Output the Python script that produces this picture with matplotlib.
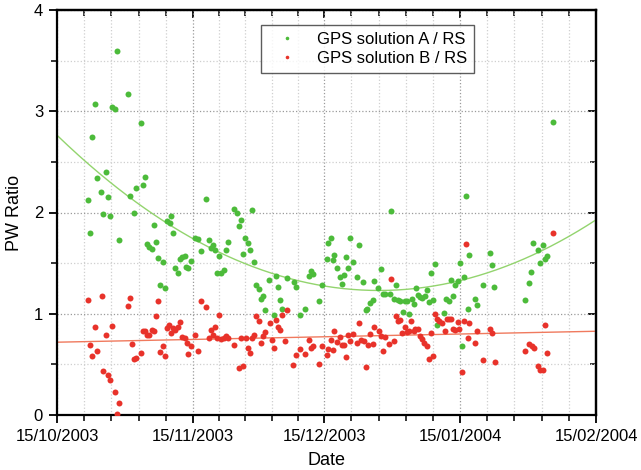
import numpy as np
import pandas as pd
import matplotlib
matplotlib.use("Agg")
import matplotlib.pyplot as plt
import matplotlib.dates as mdates
from matplotlib.ticker import FixedLocator, MultipleLocator

plt.rcParams["font.family"] = ["Liberation Sans", "DejaVu Sans"]

# days counted from 15/10/2003
start_date = "2003-10-15"
end_date = "2004-02-15"

days_a = [13.6, 16.1, 8.7, 12.6, 13.2, 19.2, 8.1, 11.1, 9.1, 20.1, 19.6, 18.1,
          10.1, 11.6, 7.1, 16.6, 10.6, 12.1, 17.6, 7.6, 14.1, 26.1, 22.1, 25.1,
          25.7, 26.5, 20.5, 21.1, 21.6, 22.6, 23.1, 24.1, 27.0, 27.6, 28.1, 28.6,
          29.1, 29.5, 30.0, 30.6, 31.6, 32.1, 32.9, 23.6, 24.6, 34.1, 40.5, 41.1,
          44.5, 42.0, 41.6, 34.6, 35.5, 35.1, 36.1, 39.0, 38.5, 37.0, 43.0, 43.5,
          44.0, 42.4, 45.0, 36.5, 37.4, 38.0, 45.4, 46.0, 47.0, 46.6, 47.5, 48.4,
          49.5, 49.9, 50.5, 51.0, 51.4, 52.5, 54.0, 54.5, 55.5, 56.5, 57.4, 57.9,
          58.5, 59.9, 60.5, 61.5, 61.9, 62.5, 63.0, 63.3, 76.3, 93.3, 66.9, 69.0,
          65.9, 67.5, 63.9, 66.4, 65.4, 64.5, 65.0, 68.4, 69.9, 72.4, 73.9, 73.3,
          74.4, 74.9, 75.9, 77.4, 72.0, 71.4, 70.8, 70.4, 77.0, 77.9, 78.3, 78.9,
          79.3, 79.9, 80.4, 80.9, 81.4, 81.9, 82.3, 82.9, 83.4, 83.9, 84.4, 84.8,
          85.3, 85.8, 86.3, 86.8, 88.3, 88.8, 89.4, 89.8, 90.4, 90.9, 91.4, 91.9,
          92.8, 92.4, 93.9, 94.1, 113.3, 108.7, 110.8, 109.8, 98.9, 111.8, 111.4,
          110.3, 99.3, 108.2, 107.8, 97.3, 99.8, 95.3, 106.8, 95.8]
ratio_a = [3.60, 3.17, 3.07, 3.04, 3.02, 2.88, 2.75, 2.40, 2.34, 2.35, 2.27, 2.24,
           2.20, 2.15, 2.12, 2.16, 1.99, 1.97, 2.00, 1.80, 1.73, 1.97, 1.88, 1.92,
           1.90, 1.80, 1.69, 1.66, 1.64, 1.71, 1.55, 1.51, 1.45, 1.40, 1.54, 1.56,
           1.57, 1.46, 1.45, 1.52, 1.75, 1.74, 1.62, 1.28, 1.25, 2.13, 2.03, 2.00,
           2.02, 1.93, 1.87, 1.73, 1.68, 1.65, 1.63, 1.71, 1.63, 1.57, 1.75, 1.70,
           1.63, 1.59, 1.51, 1.40, 1.40, 1.43, 1.28, 1.24, 1.18, 1.15, 1.04, 1.33,
           0.99, 1.37, 1.26, 1.14, 1.05, 1.35, 1.31, 1.26, 0.99, 1.05, 1.37, 1.42,
           1.39, 1.13, 1.28, 1.54, 1.70, 1.75, 1.53, 1.58, 2.01, 2.16, 1.75, 1.68,
           1.56, 1.51, 1.45, 1.45, 1.38, 1.36, 1.29, 1.36, 1.31, 1.32, 1.44, 1.25,
           1.20, 1.20, 1.20, 1.28, 1.14, 1.11, 1.05, 1.04, 1.15, 1.14, 1.13, 1.02,
           1.13, 1.13, 1.00, 1.15, 1.10, 1.25, 1.19, 1.17, 1.16, 1.18, 1.23, 1.12,
           1.40, 1.14, 1.49, 0.89, 1.01, 1.15, 1.13, 1.33, 1.18, 1.28, 1.32, 1.50,
           1.36, 0.68, 1.05, 1.58, 2.89, 1.70, 1.68, 1.63, 1.60, 1.57, 1.54,
           1.50, 1.48, 1.41, 1.30, 1.28, 1.26, 1.15, 1.14, 1.09]

days_b = [7.1, 10.2, 16.6, 16.1, 23.0, 22.6, 8.7, 12.6, 11.1, 7.6, 8.1, 9.1,
          10.5, 11.6, 12.1, 13.2, 14.1, 13.6, 17.1, 17.6, 18.1, 19.2, 19.6, 20.1,
          20.5, 21.1, 21.6, 22.1, 23.6, 24.1, 24.6, 25.1, 25.6, 26.1, 26.5, 27.0,
          27.5, 28.1, 28.6, 29.1, 29.6, 30.0, 30.6, 31.6, 32.1, 32.9, 34.0, 37.0,
          35.1, 36.0, 35.5, 34.6, 36.5, 37.5, 38.1, 38.5, 39.0, 40.5, 41.5, 42.4,
          42.0, 43.1, 43.5, 44.0, 44.6, 45.0, 45.5, 46.0, 46.6, 47.0, 47.5, 48.5,
          49.1, 49.5, 50.0, 50.5, 51.0, 51.4, 52.5, 52.0, 53.9, 54.5, 55.5, 56.5,
          57.4, 57.9, 58.5, 59.9, 60.5, 61.5, 61.9, 62.5, 63.0, 63.3, 76.3, 93.3,
          77.4, 77.9, 78.3, 80.8, 79.3, 78.8, 79.9, 80.3, 81.4, 81.8, 82.3, 82.8,
          83.3, 83.8, 84.4, 84.9, 85.9, 85.3, 86.3, 86.8, 87.2, 87.9, 88.5, 88.9,
          89.5, 89.9, 90.4, 90.9, 91.4, 91.8, 92.9, 92.4, 94.0, 93.8, 63.9, 64.5,
          65.0, 65.5, 65.9, 66.5, 66.9, 67.5, 68.5, 69.0, 69.4, 70.0, 70.4, 71.0,
          71.4, 72.0, 72.4, 73.4, 73.9, 74.4, 74.9, 75.8, 77.0, 113.3, 95.8, 98.8,
          99.3, 95.4, 111.3, 107.8, 108.3, 108.8, 106.8, 111.8, 97.3, 99.9, 109.8,
          110.3, 110.8]
ratio_b = [1.14, 1.18, 1.16, 1.08, 1.13, 0.98, 0.87, 0.88, 0.79, 0.69, 0.58, 0.63,
           0.43, 0.40, 0.35, 0.23, 0.12, 0.01, 0.70, 0.55, 0.56, 0.61, 0.83, 0.83,
           0.79, 0.79, 0.84, 0.83, 0.62, 0.68, 0.58, 0.86, 0.89, 0.81, 0.86, 0.84,
           0.87, 0.92, 0.77, 0.76, 0.71, 0.60, 0.68, 0.79, 0.63, 1.13, 1.07, 0.99,
           0.84, 0.87, 0.79, 0.76, 0.76, 0.75, 0.76, 0.78, 0.76, 0.69, 0.46, 0.48,
           0.76, 0.76, 0.66, 0.61, 0.76, 0.79, 0.98, 0.93, 0.71, 0.78, 0.82, 0.91,
           0.74, 0.66, 0.94, 0.87, 0.84, 0.99, 1.04, 0.73, 0.49, 0.59, 0.65, 0.60,
           0.74, 0.66, 0.68, 0.50, 0.68, 0.59, 0.65, 0.74, 0.64, 0.83, 1.34, 1.69,
           0.98, 0.93, 0.94, 0.93, 0.87, 0.81, 0.82, 0.83, 0.83, 0.85, 0.85, 0.78,
           0.75, 0.71, 0.68, 0.55, 0.58, 0.81, 1.00, 0.95, 0.93, 0.91, 0.83, 0.95,
           0.95, 0.95, 0.85, 0.84, 0.92, 0.85, 0.93, 0.42, 0.91, 0.76, 0.72, 0.77,
           0.69, 0.69, 0.57, 0.79, 0.73, 0.80, 0.71, 0.91, 0.74, 0.73, 0.47, 0.69,
           0.80, 0.70, 0.87, 0.83, 0.78, 0.63, 0.77, 0.70, 0.73, 1.80, 0.83, 0.85,
           0.81, 0.71, 0.89, 0.70, 0.68, 0.66, 0.63, 0.61, 0.54, 0.52, 0.48,
           0.44, 0.44]

label_a = "GPS solution A / RS"
label_b = "GPS solution B / RS"

green = "#4cbb3a"
red = "#e8322a"
green_fit = "#93d46e"
red_fit = "#f07a5e"


def to_dates(days):
    """
    in: list of day offsets
    out: matplotlib date numbers
    """
    base = pd.Timestamp(start_date)
    stamps = base + pd.to_timedelta(np.asarray(days), unit="D")
    return mdates.date2num(stamps.to_pydatetime())


fig = plt.figure(figsize=(6.41, 4.70), dpi=100)
ax = fig.add_axes([57 / 641, 1 - 415 / 470, (596 - 57) / 641, (415 - 10) / 470])

x0 = mdates.date2num(pd.Timestamp(start_date).to_pydatetime())
x1 = mdates.date2num(pd.Timestamp(end_date).to_pydatetime())

# fits over the whole axis range
span = np.linspace(0, x1 - x0, 300)
coef_a = np.polyfit(days_a, ratio_a, 2)
coef_b = np.polyfit(days_b, ratio_b, 1)
ax.plot(span + x0, np.polyval(coef_a, span), color=green_fit, lw=1.0, zorder=2)
ax.plot(span + x0, np.polyval(coef_b, span), color=red_fit, lw=1.0, zorder=2)

ax.plot(to_dates(days_a), ratio_a, "o", color=green, ms=4.3, mec="none",
        label=label_a, zorder=3)
ax.plot(to_dates(days_b), ratio_b, "o", color=red, ms=4.3, mec="none",
        label=label_b, zorder=3)

ax.set_xlim(x0, x1)
ax.set_ylim(0, 4)

major = mdates.date2num(pd.date_range(start_date, end_date, freq="MS")
                        .shift(14, freq="D").to_pydatetime())
major = np.concatenate([[x0], major[major > x0]])
minor = []
for a, b in zip(major[:-1], major[1:]):
    minor.extend(np.linspace(a, b, 6)[1:-1])

ax.xaxis.set_major_locator(FixedLocator(major))
ax.xaxis.set_minor_locator(FixedLocator(minor))
ax.xaxis.set_major_formatter(mdates.DateFormatter("%d/%m/%Y"))
ax.yaxis.set_major_locator(MultipleLocator(1))
ax.yaxis.set_minor_locator(MultipleLocator(0.5))

ax.grid(True, which="major", ls=":", color="#9a9a9a", lw=0.9)
ax.grid(True, which="minor", ls=":", color="#cfcfcf", lw=0.9)
ax.set_axisbelow(True)

ax.tick_params(which="major", direction="out", length=6, width=1.3,
               labelsize=12, pad=4)
ax.tick_params(which="minor", direction="out", length=4, width=1.1)

for side in ["top", "bottom", "left", "right"]:
    ax.spines[side].set_linewidth(1.6)

top = ax.secondary_xaxis("top")
top.xaxis.set_major_locator(FixedLocator(major))
top.xaxis.set_minor_locator(FixedLocator(minor))
top.tick_params(which="major", direction="in", length=6, width=1.3, labeltop=False)
top.tick_params(which="minor", direction="in", length=4, width=1.1)
top.spines["top"].set_linewidth(1.6)

right = ax.secondary_yaxis("right")
right.yaxis.set_major_locator(MultipleLocator(1))
right.yaxis.set_minor_locator(MultipleLocator(0.5))
right.tick_params(which="major", direction="in", length=6, width=1.3, labelright=False)
right.tick_params(which="minor", direction="in", length=4, width=1.1)
right.spines["right"].set_linewidth(1.6)

ax.set_xlabel("Date", fontsize=13, labelpad=6)
ax.set_ylabel("PW Ratio", fontsize=13, labelpad=8)

leg = ax.legend(loc="upper left", bbox_to_anchor=(0.378, 0.962), fontsize=12,
                markerscale=0.6, frameon=True, fancybox=False, handlelength=2.4,
                borderpad=0.4, labelspacing=0.25, handletextpad=0.6,
                borderaxespad=0)
leg.get_frame().set_edgecolor("#333333")
leg.get_frame().set_linewidth(1.0)

fig.savefig("out.png", dpi=100)
